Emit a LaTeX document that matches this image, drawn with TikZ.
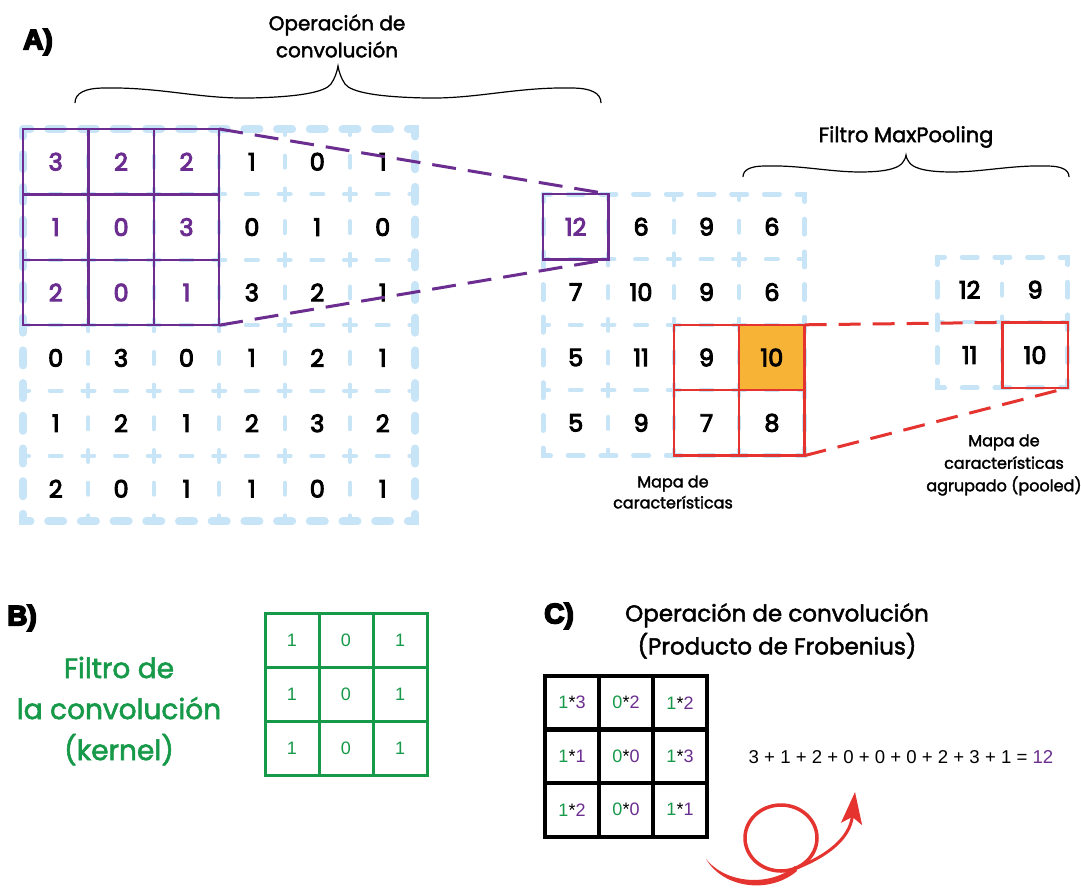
\documentclass[tikz,border=0pt]{standalone}
\usepackage{fontspec}
\setmainfont{Poppins}[FakeBold=2]
\newfontfamily\numfont{Poppins}[FakeBold=4]
\newfontfamily\arialfont{Liberation Sans}
\newfontfamily\heavyfont{Liberation Sans Bold}[FakeBold=6]
\usetikzlibrary{arrows.meta}

\definecolor{cpurple}{HTML}{6B2D8F}
\definecolor{cblue}{HTML}{C8E4F7}
\definecolor{cred}{HTML}{E5332F}
\definecolor{cgreen}{HTML}{17994A}
\definecolor{corange}{HTML}{F7B336}

\begin{document}
\begin{tikzpicture}[x=1pt,y=-1pt,
  cell/.style={minimum width=65.4pt, minimum height=65.4pt, inner sep=0pt, outer sep=0pt,
    font=\numfont\fontsize{24}{28}\selectfont},
  kcell/.style={minimum width=54pt, minimum height=54pt, inner sep=0pt, outer sep=0pt},
  bluein/.style={draw=cblue, line width=4pt, line cap=round, dash pattern=on 12pt off 20.7pt, dash phase=6pt},
  blueout/.style={draw=cblue, line width=#1, line cap=round, dash pattern=on 15pt off 17.7pt, dash phase=7.5pt},
  purplebox/.style={draw=cpurple, line width=2.5pt},
  redbox/.style={draw=cred, line width=2.5pt},
  purpledash/.style={draw=cpurple, line width=3pt, dash pattern=on 24pt off 12pt},
  reddash/.style={draw=cred, line width=3pt, dash pattern=on 22pt off 12pt},
  bracestyle/.style={draw=black, line width=1.2pt},
  label/.style={align=center, inner sep=0pt},
  tag/.style={inner sep=0pt, font=\heavyfont\fontsize{28}{30}\selectfont}
]
\useasboundingbox (0,0) rectangle (1081,888);
\fill[white] (0,0) rectangle (1081,888);

% ---------- A) input grid (6x6), light blue dashed lattice ----------
\foreach \i in {1,...,5} {
  \draw[bluein] ({23+\i*65.4},129) -- ({23+\i*65.4},521.4);
  \draw[bluein] (23,{129+\i*65.4}) -- (415.4,{129+\i*65.4});
}
\draw[blueout=8pt] (23,129) rectangle (415.4,521.4);

% feature map lattice (4x4)
\foreach \i in {1,...,3} {
  \draw[bluein] ({543+\i*65.4},194) -- ({543+\i*65.4},455.6);
  \draw[bluein] (543,{194+\i*65.4}) -- (804.6,{194+\i*65.4});
}
\draw[blueout=5pt] (543,194) rectangle (804.6,455.6);

% pooled map lattice (2x2)
\draw[bluein] (1002.4,257) -- (1002.4,387.8);
\draw[bluein] (937,322.4) -- (1067.8,322.4);
\draw[blueout=5pt] (937,257) rectangle (1067.8,387.8);

% ---------- input values ----------
\foreach \row [count=\r] in {{3,2,2,1,0,1},{1,0,3,0,1,0},{2,0,1,3,2,1},{0,3,0,1,2,1},{1,2,1,2,3,2},{2,0,1,1,0,1}} {
  \foreach \v [count=\c] in \row {
    \ifnum\r<4 \ifnum\c<4
      \node[cell, text=cpurple, purplebox] (in-\r-\c) at ({23+(\c-0.5)*65.4},{129+(\r-0.5)*65.4}) {\v};
    \else
      \node[cell] (in-\r-\c) at ({23+(\c-0.5)*65.4},{129+(\r-0.5)*65.4}) {\v};
    \fi\else
      \node[cell] (in-\r-\c) at ({23+(\c-0.5)*65.4},{129+(\r-0.5)*65.4}) {\v};
    \fi
  }
}

% ---------- feature map values ----------
\foreach \row [count=\r] in {{12,6,9,6},{7,10,9,6},{5,11,9,10},{5,9,7,8}} {
  \foreach \v [count=\c] in \row {
    \node[cell] (fm-\r-\c) at ({543+(\c-0.5)*65.4},{194+(\r-0.5)*65.4}) {};
  }
}
\node[cell, purplebox, text=cpurple] at (fm-1-1) {12};
\foreach \r/\c/\v in {1/2/6,1/3/9,1/4/6,2/1/7,2/2/10,2/3/9,2/4/6,3/1/5,3/2/11,4/1/5,4/2/9} {
  \node[cell] at (fm-\r-\c) {\v};
}
\node[cell, redbox] at (fm-3-3) {9};
\node[cell, redbox, fill=corange] at (fm-3-4) {10};
\node[cell, redbox] at (fm-4-3) {7};
\node[cell, redbox] at (fm-4-4) {8};

% ---------- pooled values ----------
\node[cell] (pl-1-1) at (969.7,289.7) {12};
\node[cell] (pl-1-2) at (1035.1,289.7) {9};
\node[cell] (pl-2-1) at (969.7,355.1) {11};
\node[cell, redbox] (pl-2-2) at (1035.1,355.1) {10};

% ---------- connectors ----------
\draw[purpledash] (in-1-3.north east) -- (fm-1-1.north east);
\draw[purpledash] (in-3-3.south east) -- (fm-1-1.south east);
\draw[reddash] (fm-3-4.north east) -- (pl-2-2.north west);
\draw[reddash] (fm-4-4.south east) -- (pl-2-2.south east);

% ---------- braces ----------
\draw[bracestyle] (75,103) .. controls (75,93) and (85,88) .. (105,88)
  .. controls (160,87) and (200,99) .. (250,98)
  .. controls (300,97) and (325,92) .. (331,84)
  .. controls (335,78) and (337,72) .. (338,66)
  .. controls (339,72) and (341,78) .. (345,84)
  .. controls (351,92) and (376,97) .. (426,98)
  .. controls (476,99) and (516,87) .. (571,88)
  .. controls (591,88) and (601,93) .. (601,103);
\draw[bracestyle] (743,177) .. controls (743,170) and (750,166) .. (765,166)
  .. controls (800,165) and (830,172) .. (860,172)
  .. controls (890,172) and (900,167) .. (903,162)
  .. controls (905,159) and (906,157) .. (906,155)
  .. controls (906,157) and (907,159) .. (909,162)
  .. controls (912,167) and (922,172) .. (952,172)
  .. controls (982,172) and (1012,165) .. (1047,166)
  .. controls (1062,166) and (1069,170) .. (1069,177);

% ---------- labels of part A ----------
\node[tag] (tagA) at (38,42) {A)};
\node[label, font=\fontsize{20}{27}\selectfont] (convlabel) at (337,36) {Operación de\\convolución};
\node[label, font=\fontsize{21}{25}\selectfont] (poollabel) at (906,137) {Filtro MaxPooling};
\node[label, font=\fontsize{16}{21}\selectfont] (fmlabel) at (673,492) {Mapa de\\características};
\node[label, font=\fontsize{16}{22.5}\selectfont] (pllabel) at (1004,465) {Mapa de\\características\\agrupado (pooled)};

% ---------- B) kernel ----------
\node[tag] (tagB) at (22,618) {B)};
\node[label, text=cgreen, font=\fontsize{28}{41}\selectfont] (kernlabel) at (119,711) {Filtro de\\la convolución\\(kernel)};
\foreach \r in {1,2,3} {
  \foreach \v [count=\c] in {1,0,1} {
    \node[kcell, draw=cgreen, line width=3pt, text=cgreen, font=\arialfont\fontsize{18}{20}\selectfont]
      (k-\r-\c) at ({265+(\c-0.5)*54},{613+(\r-0.5)*54.3}) {\v};
  }
}

% ---------- C) Frobenius product ----------
\node[tag] (tagC) at (559,616) {C)};
\node[label, font=\fontsize{23}{33}\selectfont] (prodlabel) at (777,631) {Operación de convolución\\(Producto de Frobenius)};
\foreach \r/\c/\a/\b in {1/1/1/3,1/2/0/2,1/3/1/2,2/1/1/1,2/2/0/0,2/3/1/3,3/1/1/2,3/2/0/0,3/3/1/1} {
  \node[kcell, draw=black, line width=4pt, font=\arialfont\fontsize{18}{20}\selectfont]
    (p-\r-\c) at ({545+(\c-0.5)*54},{676+(\r-0.5)*53.5}) {\textcolor{cgreen}{\a}*\textcolor{cpurple}{\b}};
}
\node[inner sep=0pt, font=\arialfont\fontsize{18.6}{20}\selectfont] (sum) at (901,757)
  {3 + 1 + 2 + 0 + 0 + 0 + 2 + 3 + 1 = \textcolor{cpurple}{12}};

% looping red arrow
\fill[cred] (706,859) .. controls (724,889) and (770,894) .. (797,871)
  -- (795,866) .. controls (770,887) and (726,884) .. (706,859) -- cycle;
\draw[cred, line width=3.5pt] (781,838) ellipse [x radius=36pt, y radius=33pt];
\draw[cred, line width=3pt, -{Stealth[length=32pt, width=21pt, inset=7pt]}]
  (794,869) .. controls (828,856) and (850,838) .. (855,792);
\end{tikzpicture}
\end{document}
